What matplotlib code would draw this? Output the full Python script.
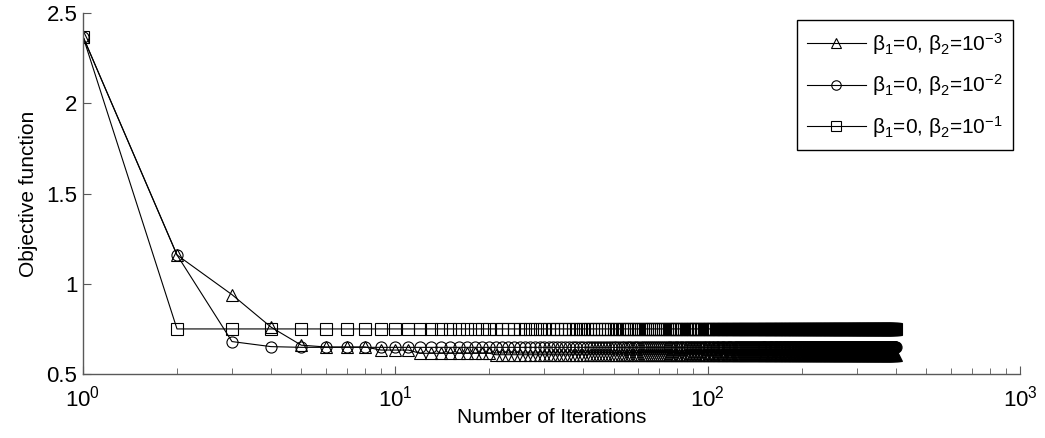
import numpy as np
import matplotlib
matplotlib.use("Agg")
import matplotlib.pyplot as plt
from matplotlib.ticker import LogLocator, FormatStrFormatter

plt.rcParams['font.family'] = ['Liberation Sans', 'DejaVu Sans']
plt.rcParams['mathtext.fontset'] = 'custom'
plt.rcParams['mathtext.rm'] = 'Liberation Sans'
plt.rcParams['mathtext.it'] = 'Liberation Sans'
plt.rcParams['mathtext.default'] = 'regular'

# objective value per iteration (400 iterations)
n_iter = 400
iters = np.arange(1, n_iter + 1)

obj_b2_1e3 = ([2.37, 1.16, 0.94, 0.76, 0.66, 0.65, 0.65, 0.65, 0.633, 0.633, 0.633]
              + [0.615] * 9 + [0.607] * 380)
obj_b2_1e2 = [2.37, 1.16, 0.68, 0.652] + [0.648] * 396
obj_b2_1e1 = [2.37, 0.75] + [0.75] * 398

labels = ['β$_1$=0, β$_2$=10$^{-3}$',
          'β$_1$=0, β$_2$=10$^{-2}$',
          'β$_1$=0, β$_2$=10$^{-1}$']
markers = ['^', 'o', 's']

fig = plt.figure(figsize=(10.45, 4.38), dpi=100)
ax = fig.add_axes([0.0794, 0.146, 0.8967, 0.824])

for y, lab, m in zip([obj_b2_1e3, obj_b2_1e2, obj_b2_1e1], labels, markers):
    ax.plot(iters, y, color='black', lw=0.8, marker=m, markersize=8,
            markerfacecolor='none', markeredgecolor='black', markeredgewidth=0.8,
            label=lab)

ax.set_xscale('log')
ax.set_xlim(1, 1000)
ax.set_ylim(0.5, 2.5)
ax.set_yticks([0.5, 1, 1.5, 2, 2.5])
ax.yaxis.set_major_formatter(FormatStrFormatter('%g'))
ax.xaxis.set_minor_locator(LogLocator(base=10, subs=np.arange(2, 10)))

for s in ['top', 'right']:
    ax.spines[s].set_visible(False)
for s in ['left', 'bottom']:
    ax.spines[s].set_color('0.35')
    ax.spines[s].set_linewidth(1.0)

ax.tick_params(which='both', direction='in', color='0.35', labelsize=16)
ax.tick_params(which='major', length=6)
ax.tick_params(which='minor', length=4)
ax.tick_params(axis='x', pad=8)
ax.tick_params(axis='y', pad=4)

ax.set_xlabel('Number of Iterations', fontsize=15, labelpad=-2)
ax.set_ylabel('Objective function', fontsize=15, labelpad=6)

leg = ax.legend(loc='upper right', bbox_to_anchor=(0.9925, 0.98), borderaxespad=0,
                fontsize=15, fancybox=False, edgecolor='black', framealpha=1,
                handlelength=2.8, labelspacing=0.75, borderpad=0.5, handletextpad=0.3,
                markerscale=0.85)
leg.get_frame().set_linewidth(1.0)

fig.savefig('out.png', dpi=100)
